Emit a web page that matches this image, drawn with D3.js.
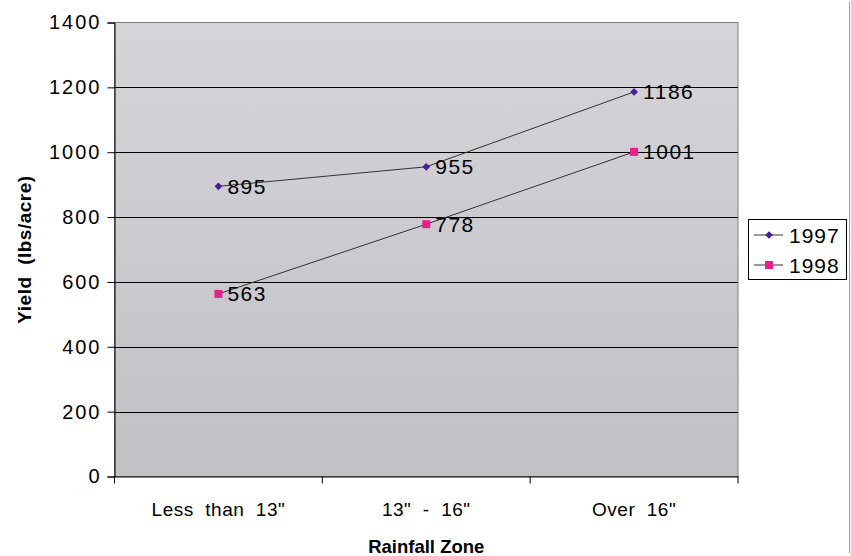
<!DOCTYPE html>
<html><head><meta charset="utf-8">
<script src="https://cdn.jsdelivr.net/npm/d3@7"></script>
<style>
body{margin:0;background:#fff;}
svg text{font-family:"Liberation Sans",Arial,sans-serif;fill:#000;}
</style></head>
<body><svg id="c" width="851" height="556"></svg>
<script>
const categories = ['Less  than  13"', '13"  -  16"', 'Over  16"'];
const seriesNames = ["1997", "1998"];
const values1997 = [895, 955, 1186];
const values1998 = [563, 778, 1001];
const yTicks = [0, 200, 400, 600, 800, 1000, 1200, 1400];
const seriesColors = ["#4a1e9a", "#e8208c"];

const svg = d3.select("#c");
const m = {l:114.5, t:22.5, r:738, b:476.5};
const x = d3.scaleBand().domain(categories).range([m.l, m.r]);
const y = d3.scaleLinear().domain([0,1400]).range([m.b, m.t]);

const defs = svg.append("defs");
const g = defs.append("linearGradient").attr("id","bg").attr("x1",0).attr("y1",0).attr("x2",0).attr("y2",1);
g.append("stop").attr("offset","0").attr("stop-color","#d5d4d9");
g.append("stop").attr("offset","1").attr("stop-color","#c1c0c5");

svg.append("rect").attr("x",m.l).attr("y",m.t).attr("width",m.r-m.l).attr("height",m.b-m.t)
  .attr("fill","url(#bg)").attr("stroke","#808080").attr("stroke-width",1);

// gridlines
svg.append("g").selectAll("line").data(yTicks.filter(d=>d>0 && d<1400)).join("line")
  .attr("x1",m.l).attr("x2",m.r).attr("y1",d=>Math.round(y(d))+0.5).attr("y2",d=>Math.round(y(d))+0.5)
  .attr("stroke","#000").attr("stroke-width",1);

// y axis
const ya = svg.append("g").attr("transform",`translate(${m.l},0)`)
  .call(d3.axisLeft(y).tickValues(yTicks).tickSize(7).tickPadding(6).tickFormat(d3.format("d")));
ya.select(".domain").attr("stroke","#000");
ya.selectAll(".tick line").attr("stroke","#000");
ya.selectAll("text").attr("font-size","20px").attr("letter-spacing","2px").attr("dx","0px")
  .attr("fill","#000").attr("font-family","Liberation Sans, Arial, sans-serif");

// x axis
const xa = svg.append("g").attr("transform",`translate(0,${m.b})`)
  .call(d3.axisBottom(x).tickSize(0).tickPadding(0));
xa.select(".domain").attr("stroke","#000");
xa.selectAll(".tick text").attr("font-size","19px").attr("letter-spacing","0.5px").attr("y",39).attr("dy",0)
  .attr("fill","#000").attr("font-family","Liberation Sans, Arial, sans-serif").style("white-space","pre");
const bounds = [m.l].concat(categories.map(c=>x(c)+x.bandwidth()));
svg.append("g").selectAll("line").data(bounds).join("line")
  .attr("x1",d=>d).attr("x2",d=>d).attr("y1",m.b).attr("y2",m.b+7).attr("stroke","#000");

// titles
svg.append("text").attr("x",(m.l+m.r)/2).attr("y",553).attr("text-anchor","middle")
  .attr("font-size","18.5px").attr("font-weight","bold").text("Rainfall Zone");
svg.append("text").attr("transform",`translate(31,${(m.t+m.b)/2}) rotate(-90)`).attr("text-anchor","middle")
  .attr("font-size","19px").attr("font-weight","bold").attr("letter-spacing","0.5px").style("white-space","pre").text("Yield  (lbs/acre)");

// lines
const series = [values1997, values1998];
const line = d3.line().x((d,i)=>x(categories[i])+x.bandwidth()/2).y(d=>y(d));
series.forEach((vals,si)=>{
  svg.append("path").datum(vals).attr("d",line).attr("fill","none").attr("stroke","#333").attr("stroke-width",1);
});
const diamond = d3.symbol().type(d3.symbolSquare).size(30);
series.forEach((vals,si)=>{
  const gg = svg.append("g");
  vals.forEach((v,i)=>{
    const cx = x(categories[i])+x.bandwidth()/2, cy = y(v);
    if(si===0){
      gg.append("path").attr("d",diamond).attr("transform",`translate(${cx},${cy}) rotate(45)`).attr("fill",seriesColors[0]);
    } else {
      gg.append("rect").attr("x",cx-4).attr("y",cy-4).attr("width",8).attr("height",8).attr("fill",seriesColors[1]);
    }
    gg.append("text").attr("x",cx+9).attr("y",cy).attr("dy","0.36em").attr("font-size","21px")
      .attr("letter-spacing","1.5px").text(v);
  });
});

// legend
const lg = svg.append("g");
lg.append("rect").attr("x",748.5).attr("y",219.5).attr("width",98).attr("height",60)
  .attr("fill","#fff").attr("stroke","#000");
seriesNames.forEach((n,i)=>{
  const ly = 235 + i*30;
  lg.append("line").attr("x1",754).attr("x2",783).attr("y1",ly).attr("y2",ly).attr("stroke","#333");
  if(i===0) lg.append("path").attr("d",diamond).attr("transform",`translate(769,${ly}) rotate(45)`).attr("fill",seriesColors[0]);
  else lg.append("rect").attr("x",765).attr("y",ly-4).attr("width",8).attr("height",8).attr("fill",seriesColors[1]);
  lg.append("text").attr("x",789).attr("y",ly).attr("dy","0.36em").attr("font-size","21px").attr("letter-spacing","1px").text(n);
});

// right border line
svg.append("line").attr("x1",849.5).attr("x2",849.5).attr("y1",2).attr("y2",553).attr("stroke","#999");
</script></body></html>
